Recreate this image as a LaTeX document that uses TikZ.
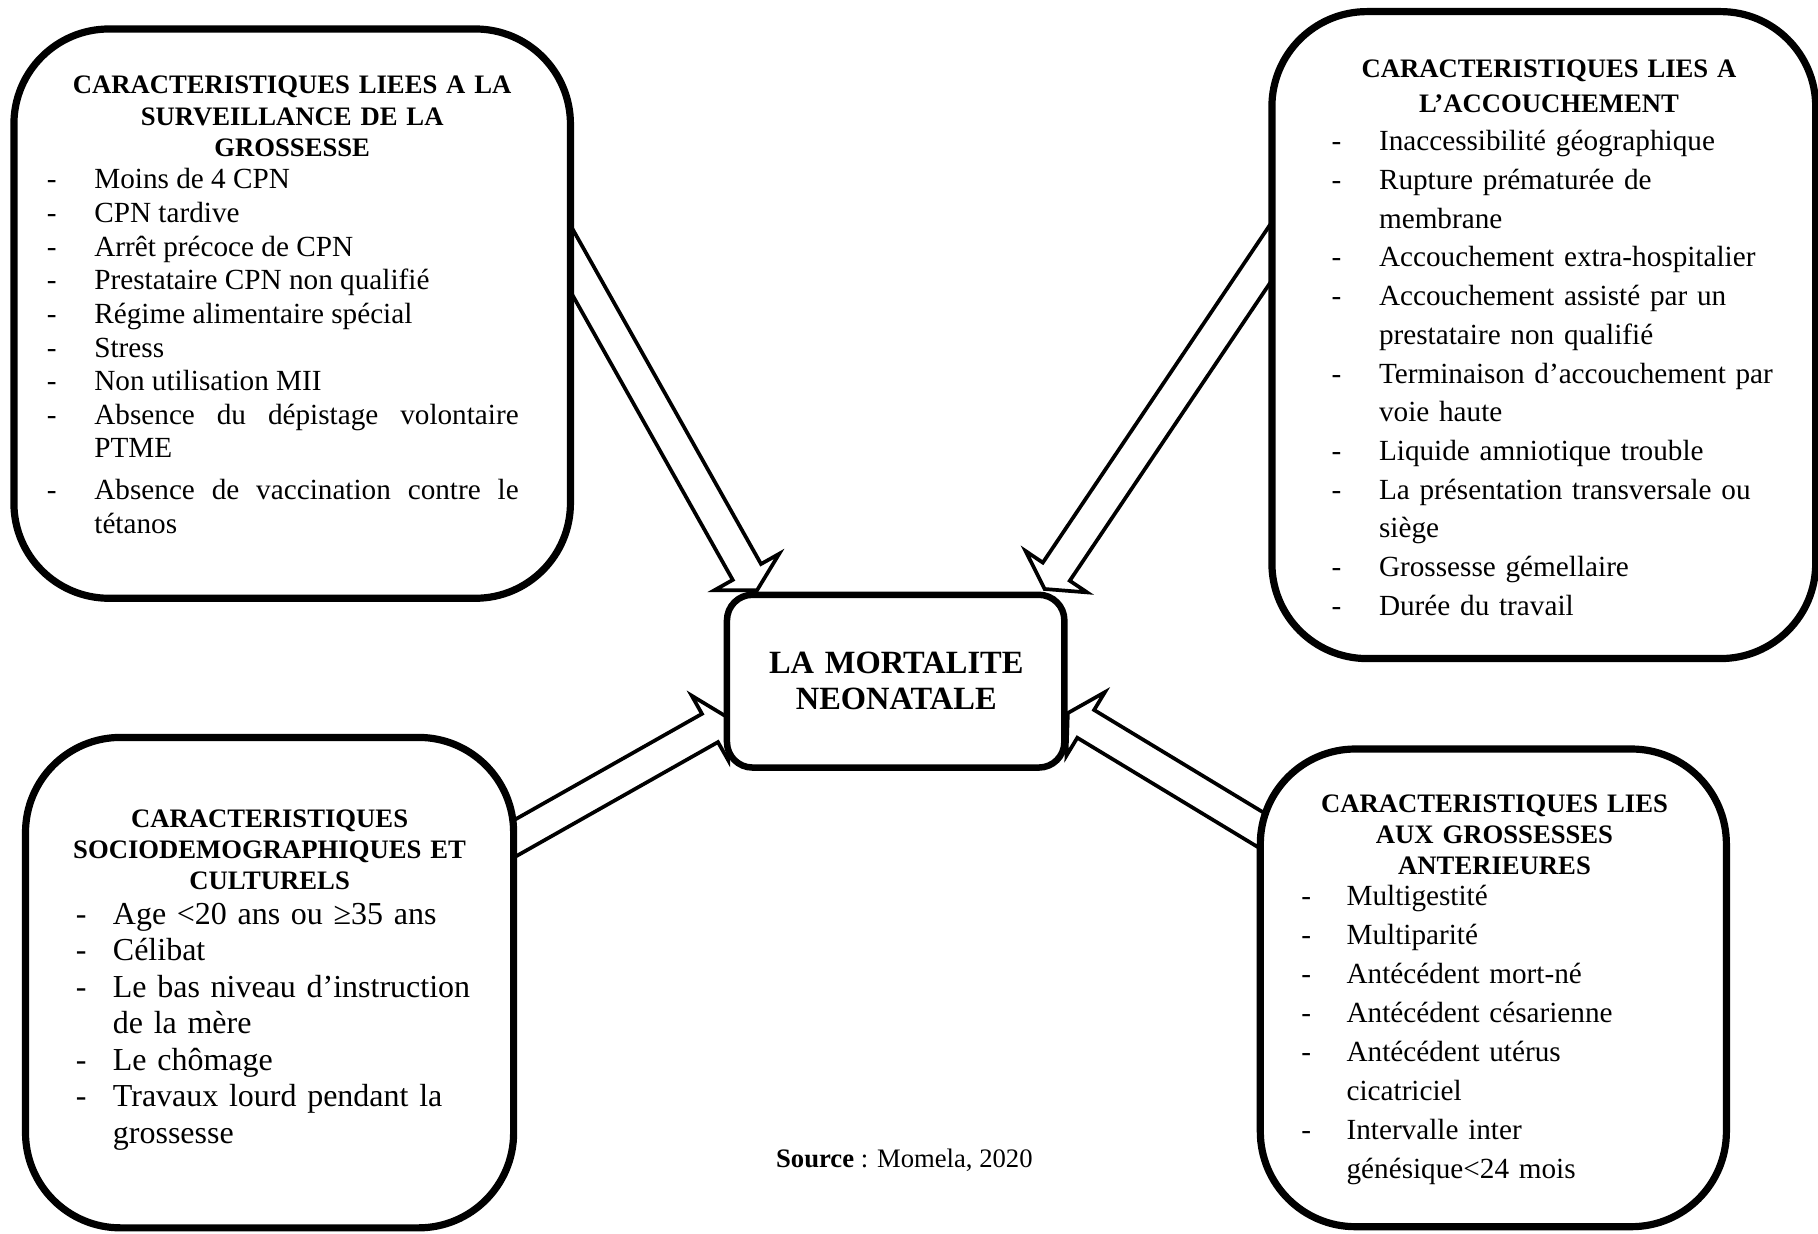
\documentclass[tikz,border=0pt]{standalone}
\usepackage{fontspec}
\setmainfont{Liberation Serif}
\usetikzlibrary{calc}
\newlength\dashw
\newcommand\li[1]{\hangindent=\dashw\hangafter=1\makebox[\dashw][l]{-}#1\par}
\tikzset{
  bigbox/.style={draw, line width=3.1pt, rounded corners=41pt, fill=white, inner sep=0pt},
  midbox/.style={draw, line width=2.8pt, rounded corners=11pt, fill=white, inner sep=0pt},
  barrow/.style={draw, line width=1.6pt, fill=white, line join=miter},
  ttl/.style={anchor=base, inner sep=0pt, align=center},
  lst/.style={anchor=base west, inner sep=0pt, align=left},
}
\newcommand\blockarrow[2]{%
  \path ($(#2)!9pt!(#1)$) coordinate (hh);
  \draw[barrow] ($(#1)!7pt!90:(#2)$) -- ($(hh)!7pt!90:(#2)$) -- ($(hh)!16pt!90:(#2)$) -- (#2)
    -- ($(hh)!16pt!-90:(#2)$) -- ($(hh)!7pt!-90:(#2)$) -- ($(#1)!7pt!-90:(#2)$) -- cycle;
}
\begin{document}
\begin{tikzpicture}[x=0.5pt,y=-0.5pt]
\fill[white] (0,0) rectangle (1568,1064);
\useasboundingbox (0,0) rectangle (1568,1064);
% arrow end points
\coordinate (s1) at (471.4,186.2); \coordinate (t1) at (653,509);
\coordinate (s2) at (1116,188.3);  \coordinate (t2) at (901,508);
\coordinate (s3) at (408.2,743.3); \coordinate (t3) at (628,619);
\coordinate (s4) at (1122,736.7);  \coordinate (t4) at (921,615);
\blockarrow{s1}{t1}
\blockarrow{s2}{t2}
\blockarrow{s3}{t3}
\blockarrow{s4}{t4}
% boxes
\node[bigbox, minimum width=240pt, minimum height=245.5pt] (tl) at (252,270.5) {};
\node[bigbox, minimum width=234.5pt, minimum height=279pt] (tr) at (1331.5,289) {};
\node[bigbox, minimum width=210.5pt, minimum height=211.5pt] (bl) at (232.5,847.5) {};
\node[bigbox, minimum width=201pt, minimum height=206pt] (br) at (1288,852) {};
\node[midbox, minimum width=145.5pt, minimum height=74.5pt] (c) at (772.5,587.5) {};
% titles
\node[ttl, text width=230pt, font=\bfseries\fontsize{11.5}{13.5}\selectfont] (tlt) at (252,81)
  {CARACTERISTIQUES LIEES A LA\\SURVEILLANCE DE LA\\GROSSESSE};
\node[ttl, text width=230pt, font=\bfseries\fontsize{11.5}{15}\selectfont] (trt) at (1336,67)
  {CARACTERISTIQUES LIES A\\L’ACCOUCHEMENT};
\node[ttl, text width=205pt, font=\bfseries\fontsize{11.5}{13.3}\selectfont] (blt) at (232.5,714)
  {CARACTERISTIQUES\\SOCIODEMOGRAPHIQUES ET\\CULTURELS};
\node[ttl, text width=200pt, font=\bfseries\fontsize{11.5}{13.3}\selectfont] (brt) at (1289,701)
  {CARACTERISTIQUES LIES\\AUX GROSSESSES\\ANTERIEURES};
\node[ttl, text width=140pt, font=\bfseries\fontsize{14}{15.5}\selectfont] (ct) at (773,581)
  {LA MORTALITE\\NEONATALE};
% lists
\node[lst, text width=203.5pt, align=justify, font=\fontsize{12.6}{14.5}\selectfont] (tll) at (40,163)
  {\setlength\dashw{20.5pt}%
   \li{Moins de 4 CPN}
   \li{CPN tardive}
   \li{Arrêt précoce de CPN}
   \li{Prestataire CPN non qualifié}
   \li{Régime alimentaire spécial}
   \li{Stress}
   \li{Non utilisation MII}
   \li{Absence du dépistage volontaire\linebreak PTME}
   \vspace{3.5pt}
   \li{Absence de vaccination contre le\linebreak tétanos}};
\node[lst, text width=205pt, font=\fontsize{12.6}{16.7}\selectfont] (trl) at (1148,130)
  {\setlength\dashw{20.5pt}%
   \li{Inaccessibilité géographique}
   \li{Rupture prématurée de\newline membrane}
   \li{Accouchement extra-hospitalier}
   \li{Accouchement assisté par un\newline prestataire non qualifié}
   \li{Terminaison d’accouchement par\newline voie haute}
   \li{Liquide amniotique trouble}
   \li{La présentation transversale ou\newline siège}
   \li{Grossesse gémellaire}
   \li{Durée du travail}};
\node[lst, text width=185pt, font=\fontsize{13.8}{15.75}\selectfont] (bll) at (65,797)
  {\setlength\dashw{16pt}%
   \li{Age <20 ans ou ≥35 ans}
   \li{Célibat}
   \li{Le bas niveau d’instruction\newline de la mère}
   \li{Le chômage}
   \li{Travaux lourd pendant la\newline grossesse}};
\node[lst, text width=180pt, font=\fontsize{12.6}{16.8}\selectfont] (brl) at (1122,781)
  {\setlength\dashw{19.5pt}%
   \li{Multigestité}
   \li{Multiparité}
   \li{Antécédent mort-né}
   \li{Antécédent césarienne}
   \li{Antécédent utérus\newline cicatriciel}
   \li{Intervalle inter\newline génésique<24 mois}};
\node[anchor=base, inner sep=0pt, font=\fontsize{11.5}{13}\selectfont] (src) at (780,1007)
  {\textbf{Source} : Momela, 2020};
\end{tikzpicture}
\end{document}
